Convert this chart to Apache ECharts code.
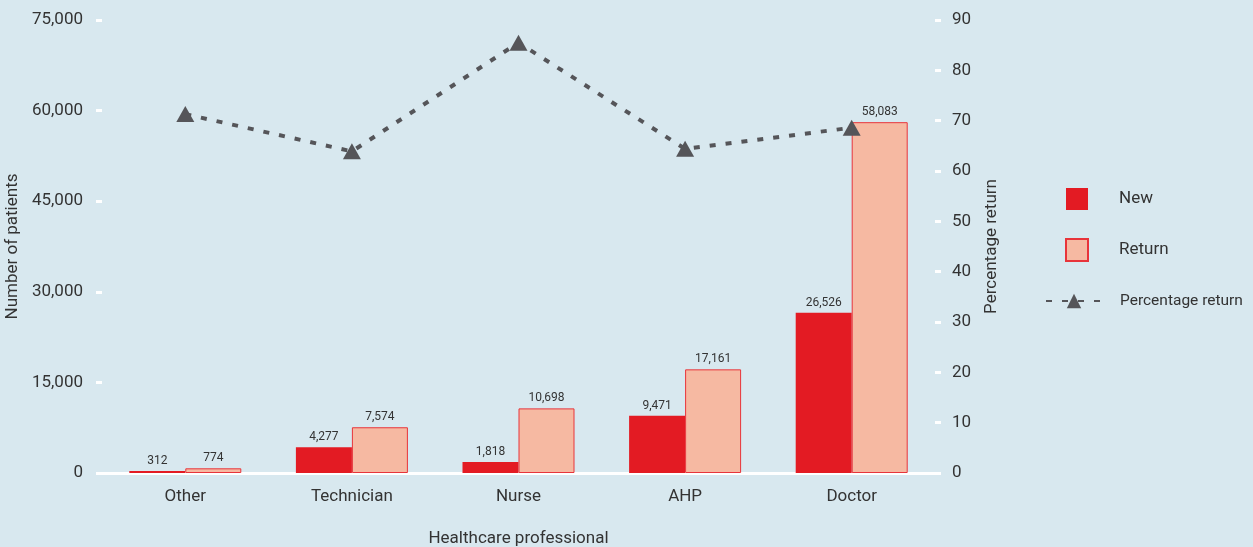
<!DOCTYPE html>
<html>
<head>
<meta charset="utf-8">
<script src="https://cdn.jsdelivr.net/npm/echarts@6/dist/echarts.min.js"></script>
<style>
  html, body { margin: 0; padding: 0; background: #d8e8ef; }
  #chart { width: 1253px; height: 547px; }
</style>
</head>
<body>
<div id="chart"></div>
<script>
// 数据
const categories = ['Other', 'Technician', 'Nurse', 'AHP', 'Doctor']
const newPatients = [312, 4277, 1818, 9471, 26526]
const returnPatients = [774, 7574, 10698, 17161, 58083]
const percentReturn = [71.3, 63.9, 85.5, 64.4, 68.6]

const font = 'Roboto, "Liberation Sans", sans-serif'
const txt = '#333333'

const chart = echarts.init(document.getElementById('chart'))

const option = {
  backgroundColor: '#d8e8ef',
  textStyle: { fontFamily: font },
  grid: { left: 102, right: 318, top: 20, bottom: 74, containLabel: false, outerBoundsMode: 'none' },
  // 图例 分两组，线条图标更宽
  legend: [
    {
      orient: 'vertical',
      left: 1060,
      top: 183,
      itemWidth: 22,
      itemHeight: 22,
      itemGap: 28,
      icon: 'rect',
      data: ['New', 'Return'],
      textStyle: { color: txt, fontSize: 17, fontFamily: font, padding: [0, 0, 0, 26] }
    },
    {
      left: 1040,
      top: 288,
      itemWidth: 56,
      itemHeight: 18,
      data: ['Percentage return'],
      textStyle: { color: txt, fontSize: 15.5, fontFamily: font, padding: [0, 0, 0, 13] }
    }
  ],
  xAxis: {
    type: 'category',
    data: categories,
    name: 'Healthcare professional',
    nameLocation: 'middle',
    nameGap: 57,
    nameTextStyle: { color: txt, fontSize: 17 },
    axisLine: { lineStyle: { color: '#ffffff', width: 3 } },
    axisTick: { show: false },
    axisLabel: { color: txt, fontSize: 17, margin: 15 }
  },
  yAxis: [
    {
      type: 'value',
      min: 0,
      max: 75000,
      interval: 15000,
      name: 'Number of patients',
      nameLocation: 'middle',
      nameGap: 72,
      nameTextStyle: { color: txt, fontSize: 17 },
      axisLine: { show: false },
      axisTick: { show: true, length: 6, lineStyle: { color: '#ffffff', width: 3 } },
      splitLine: { show: false },
      axisLabel: {
        color: txt,
        fontSize: 17,
        margin: 19,
        formatter: v => v.toLocaleString('en-US')
      }
    },
    {
      type: 'value',
      min: 0,
      max: 90,
      interval: 10,
      position: 'right',
      name: 'Percentage return',
      nameLocation: 'middle',
      nameGap: 48,
      nameTextStyle: { color: txt, fontSize: 17 },
      axisLine: { show: false },
      axisTick: { show: true, length: 6, lineStyle: { color: '#ffffff', width: 3 } },
      splitLine: { show: false },
      axisLabel: { color: txt, fontSize: 17, margin: 17 }
    }
  ],
  series: [
    {
      name: 'New',
      type: 'bar',
      data: newPatients,
      barWidth: 56,
      barGap: '0%',
      itemStyle: { color: '#e31b23' },
      label: {
        show: true,
        position: 'top',
        distance: 4,
        color: txt,
        fontSize: 12,
        formatter: p => p.value.toLocaleString('en-US')
      }
    },
    {
      name: 'Return',
      type: 'bar',
      data: returnPatients,
      barWidth: 56,
      barGap: '0%',
      itemStyle: { color: '#f6b9a2', borderColor: '#e8343a', borderWidth: 1 },
      label: {
        show: true,
        position: 'top',
        distance: 4,
        color: txt,
        fontSize: 12,
        formatter: p => p.value.toLocaleString('en-US')
      }
    },
    {
      name: 'Percentage return',
      type: 'line',
      yAxisIndex: 1,
      data: percentReturn,
      symbol: 'triangle',
      symbolSize: [18, 16],
      itemStyle: { color: '#555559' },
      lineStyle: { color: '#555559', width: 4, type: [6, 10], cap: 'butt' },
      z: 5
    }
  ]
}

chart.setOption(option)
</script>
</body>
</html>
